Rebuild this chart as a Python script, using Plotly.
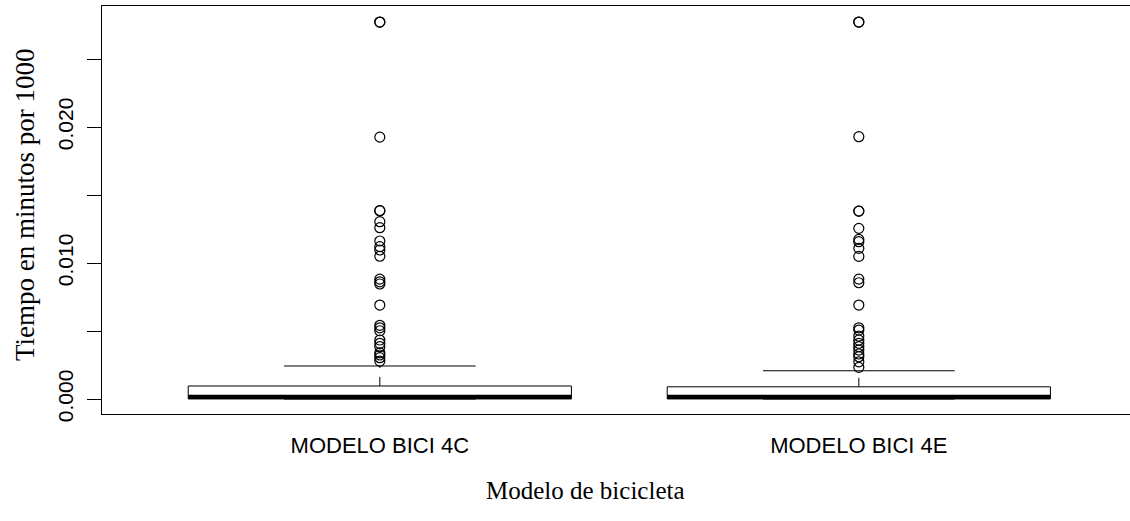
import plotly.graph_objects as go

# ---- data ----
categories = ["MODELO BICI 4C", "MODELO BICI 4E"]
positions = [1, 2]
lower_fence = [0.0, 0.0]
q1 = [0.00002, 0.00002]
median = [0.00015, 0.00015]
q3 = [0.00096, 0.00090]
upper_fence = [0.00243, 0.00208]

outliers_4c = [0.02772, 0.02772, 0.01926, 0.01385, 0.01385, 0.01304, 0.01260, 0.01162,
               0.01120, 0.01096, 0.01050, 0.00882, 0.00862, 0.00846, 0.00691,
               0.00542, 0.00524, 0.00502, 0.00434, 0.00410, 0.00385, 0.00340,
               0.00324, 0.00304, 0.00279]
outliers_4e = [0.02772, 0.02772, 0.01929, 0.01382, 0.01382, 0.01255, 0.01174, 0.01157,
               0.01108, 0.01049, 0.00882, 0.00855, 0.00691, 0.00524, 0.00507,
               0.00463, 0.00434, 0.00410, 0.00385, 0.00360, 0.00331, 0.00311,
               0.00274, 0.00233]
outliers = [outliers_4c, outliers_4e]

y_tickvals = [0.0, 0.005, 0.010, 0.015, 0.020, 0.025]
y_ticktext = ["0.000", "", "0.010", "", "0.020", ""]

BOX_HALF = 0.4
STAPLE_HALF = 0.2

fig = go.Figure()
black = "black"
for i, x in enumerate(positions):
    # box
    fig.add_trace(go.Scatter(
        x=[x - BOX_HALF, x + BOX_HALF, x + BOX_HALF, x - BOX_HALF, x - BOX_HALF],
        y=[q1[i], q1[i], q3[i], q3[i], q1[i]],
        mode="lines", line=dict(color=black, width=1), hoverinfo="skip"))
    # median
    fig.add_trace(go.Scatter(
        x=[x - BOX_HALF, x + BOX_HALF], y=[median[i], median[i]],
        mode="lines", line=dict(color=black, width=4.5), hoverinfo="skip"))
    # whiskers (dashed)
    fig.add_trace(go.Scatter(
        x=[x, x, None, x, x],
        y=[q3[i], upper_fence[i], None, q1[i], lower_fence[i]],
        mode="lines", line=dict(color=black, width=1, dash="dash"), hoverinfo="skip"))
    # staples
    fig.add_trace(go.Scatter(
        x=[x - STAPLE_HALF, x + STAPLE_HALF, None, x - STAPLE_HALF, x + STAPLE_HALF],
        y=[upper_fence[i], upper_fence[i], None, lower_fence[i], lower_fence[i]],
        mode="lines", line=dict(color=black, width=1), hoverinfo="skip"))
    # outliers
    fig.add_trace(go.Scatter(
        x=[x] * len(outliers[i]), y=outliers[i], mode="markers",
        marker=dict(symbol="circle-open", size=10, color=black, line=dict(width=1.2)),
        hoverinfo="y"))

W, H = 1130, 521
L, R, T, B = 102, 0, 6, 107
plot_w = W - L - R
px_per_unit_x = 479.0
x0 = 0.42
x1 = x0 + plot_w / px_per_unit_x

fig.update_layout(
    width=W, height=H,
    margin=dict(l=L, r=R, t=T, b=B, pad=0),
    paper_bgcolor="white", plot_bgcolor="white",
    showlegend=False,
    xaxis=dict(
        range=[x0, x1], tickvals=positions, ticktext=categories,
        showgrid=False, zeroline=False,
        showline=True, linecolor=black, linewidth=1, mirror=True,
        ticks="", ticklabelstandoff=12,
        tickfont=dict(family="Liberation Sans, Arial", size=22, color=black),
    ),
    yaxis=dict(
        range=[-0.0011, 0.0289], tickvals=y_tickvals, ticktext=y_ticktext,
        showgrid=False, zeroline=False,
        showline=True, linecolor=black, linewidth=1, mirror=False,
        ticks="outside", ticklen=14, tickwidth=1, tickcolor=black,
        tickangle=-90, ticklabelstandoff=6,
        tickfont=dict(family="Liberation Sans, Arial", size=21, color=black),
    ),
    annotations=[
        dict(text="Modelo de bicicleta", xref="paper", yref="paper",
             x=(585 - L) / plot_w, y=(414 - 490) / 408.0,
             xanchor="center", yanchor="middle", showarrow=False,
             font=dict(family="Liberation Serif, Times New Roman", size=25, color=black)),
        dict(text="Tiempo en minutos por 1000", xref="paper", yref="paper",
             x=(25 - L) / plot_w, y=(414 - 205) / 408.0, textangle=-90,
             xanchor="center", yanchor="middle", showarrow=False,
             font=dict(family="Liberation Serif, Times New Roman", size=27, color=black)),
    ],
)

fig.write_html("out.html")
